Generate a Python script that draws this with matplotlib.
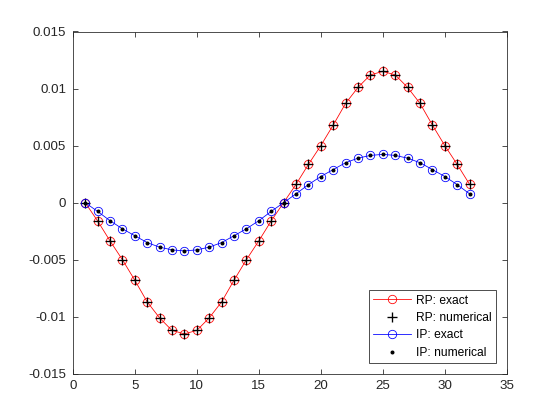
import matplotlib
matplotlib.use("Agg")
import matplotlib.pyplot as plt

x = list(range(1, 33))
rp = [0, -0.0016, -0.00335, -0.005, -0.0068, -0.0087, -0.0101, -0.0112, -0.0115,
      -0.0112, -0.0101, -0.0087, -0.0068, -0.005, -0.00335, -0.0016,
      0, 0.0016, 0.00335, 0.005, 0.0068, 0.0087, 0.0101, 0.0112, 0.0115,
      0.0112, 0.0101, 0.0087, 0.0068, 0.005, 0.00335, 0.0016]
ip = [0, -0.00077, -0.00158, -0.00229, -0.0029, -0.0035, -0.0039, -0.00414, -0.00423,
      -0.00414, -0.0039, -0.0035, -0.0029, -0.00229, -0.00158, -0.00077,
      0, 0.00077, 0.00158, 0.00229, 0.0029, 0.0035, 0.0039, 0.00414, 0.00423,
      0.00414, 0.0039, 0.0035, 0.0029, 0.00229, 0.00158, 0.00077]
xticks = [0, 5, 10, 15, 20, 25, 30, 35]
yticks = [-0.015, -0.01, -0.005, 0, 0.005, 0.01, 0.015]
ytick_labels = ["-0.015", "-0.01", "-0.005", "0", "0.005", "0.01", "0.015"]

plt.rcParams['font.family'] = ['Liberation Sans', 'DejaVu Sans']
ax_color = (0.15, 0.15, 0.15)

fig = plt.figure(figsize=(560/96, 420/96), dpi=96)
ax = fig.add_axes([0.13, 0.11, 0.775, 0.815])

ax.plot(x, rp, color='r', lw=0.6, marker='o', ms=6.3, mfc='none', mec='r', mew=0.6, label='RP: exact')
ax.plot(x, rp, ls='none', marker='+', ms=7.5, color='k', mew=1.0, label='RP: numerical')
ax.plot(x, ip, color='b', lw=0.6, marker='o', ms=6.3, mfc='none', mec='b', mew=0.6, label='IP: exact')
ax.plot(x, ip, ls='none', marker='.', ms=4, color='k', label='IP: numerical')

ax.set_xlim(0, 35)
ax.set_ylim(-0.015, 0.015)
ax.set_xticks(xticks)
ax.set_xticklabels([str(t) for t in xticks])
ax.set_yticks(yticks)
ax.set_yticklabels(ytick_labels)
ax.tick_params(direction='in', top=True, right=True, length=4, width=0.6,
               colors=ax_color, labelsize=10, labelcolor=ax_color, pad=5)
for s in ax.spines.values():
    s.set_color(ax_color)
    s.set_linewidth(0.6)

leg = ax.legend(loc='lower right', fontsize=9, frameon=True, fancybox=False,
                edgecolor=ax_color, framealpha=1, borderaxespad=0.9,
                handlelength=3.2, labelspacing=0.45, borderpad=0.35, handletextpad=0.4)
leg.get_frame().set_linewidth(0.6)

fig.savefig("out.png", dpi=96)
